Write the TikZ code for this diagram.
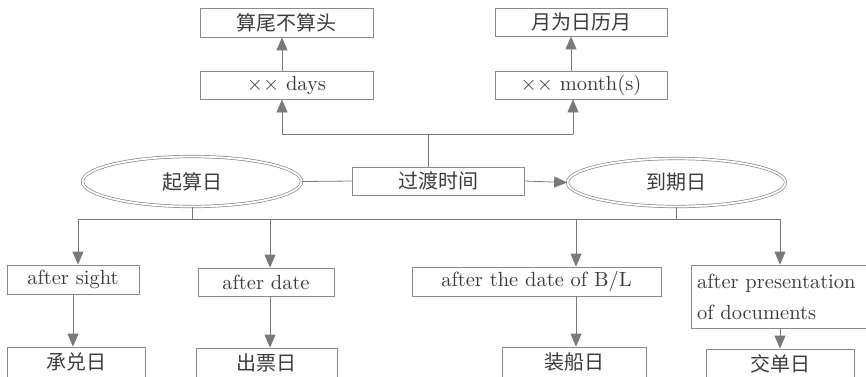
\documentclass[tikz,border=0pt]{standalone}
\usepackage{fontspec}
\newfontfamily\cjk{Noto Sans CJK SC}
\newfontfamily\enfont{lmroman10-regular.otf}
\usetikzlibrary{arrows.meta,shapes.geometric}
\definecolor{ln}{HTML}{7A7A7A}
\definecolor{bx}{HTML}{8A8A8A}
\definecolor{tx}{HTML}{3C3C3C}
\tikzset{
  box/.style={draw=bx, line width=0.8pt, rectangle, inner sep=0pt, text=tx},
  zh/.style={font=\cjk\fontsize{20}{24}\selectfont},
  en/.style={font=\enfont\fontsize{20.5}{31}\selectfont},
  oval/.style={ellipse, draw=bx, line width=0.7pt, double=white, double distance=1.8pt,
    inner sep=0pt, text=tx, font=\cjk\fontsize{20}{24}\selectfont},
  conn/.style={draw=ln, line width=0.8pt},
  arr/.style={conn, -{Triangle[width=11pt,length=13pt]}, color=ln},
}
\begin{document}
\begin{tikzpicture}[x=1pt,y=-1pt]
\clip (0,0) rectangle (866,376);
\fill[white] (0,0) rectangle (866,376);
% top boxes
\node[box,zh,minimum width=173pt,minimum height=29pt] (suanwei) at (286.5,22.5) {算尾不算头};
\node[box,en,minimum width=173pt,minimum height=28pt] (days) at (286.5,85) {$\mathord{\times}\mathord{\times}$ days};
\node[box,zh,minimum width=172pt,minimum height=28pt] (yuewei) at (581,22) {月为日历月};
\node[box,en,minimum width=172pt,minimum height=28pt] (month) at (581,85) {$\mathord{\times}\mathord{\times}$ month(s)};
% middle
\node[box,zh,minimum width=172pt,minimum height=28pt] (guodu) at (438,181) {过渡时间};
\node[oval,minimum width=219pt,minimum height=50pt] (qisuan) at (192,181.5) {起算日};
\node[oval,minimum width=218pt,minimum height=48pt] (daoqi) at (676.5,182.5) {到期日};
% lower boxes
\node[box,en,minimum width=132pt,minimum height=29pt] (sight) at (73,279.5) {after sight};
\node[box,en,minimum width=136pt,minimum height=28pt] (date) at (266,282) {after date};
\node[box,en,minimum width=249pt,minimum height=29pt] (bl) at (536.5,281.5) {after the date of B/L};
\node[box,en,minimum width=179pt,minimum height=63pt,text width=167pt,align=left] (pres) at (780.5,296.5) {after presentation\\of documents};
% bottom boxes
\node[box,zh,minimum width=138pt,minimum height=30pt] (chengdui) at (76,362) {承兑日};
\node[box,zh,minimum width=141pt,minimum height=30pt] (chupiao) at (266.5,363) {出票日};
\node[box,zh,minimum width=144pt,minimum height=30pt] (zhuangchuan) at (574,362) {装船日};
\node[box,zh,minimum width=148pt,minimum height=30pt] (jiaodan) at (780,364) {交单日};
% junction coordinates
\coordinate (tA) at (282,134);
\coordinate (tB) at (573,134);
\coordinate (tC) at (428,134);
\coordinate (b1) at (78,219);
\coordinate (b2) at (270,219);
\coordinate (b3) at (576,219);
\coordinate (b4) at (780,219);
% top connectors
\draw[conn] (tC |- guodu.north) -- (tC);
\draw[conn] (tA) -- (tB);
\draw[arr] (tA) -- (tA |- days.south);
\draw[arr] (tB) -- (tB |- month.south);
\draw[arr] (tA |- days.north) -- (tA |- suanwei.south);
\draw[arr] (month.north -| 571,0) -- (yuewei.south -| 571,0);
% middle connectors
\draw[conn] (qisuan.east) -- (guodu.west);
\draw[arr] (guodu.east) -- (daoqi.west);
% lower connectors
\draw[conn] (qisuan.south) -- (qisuan.south |- b1);
\draw[conn] (daoqi.south) -- (daoqi.south |- b1);
\draw[conn] (b1) -- (b4);
\draw[arr] (b1) -- (b1 |- sight.north);
\draw[arr] (b2) -- (b2 |- date.north);
\draw[arr] (b3) -- (b3 |- bl.north);
\draw[arr] (b4) -- (b4 |- pres.north);
\draw[arr] (sight.south) -- (sight.south |- chengdui.north);
\draw[arr] (b2 |- date.south) -- (b2 |- chupiao.north);
\draw[arr] (b3 |- bl.south) -- (b3 |- zhuangchuan.north);
\draw[arr] (b4 |- pres.south) -- (b4 |- jiaodan.north);
\end{tikzpicture}
\end{document}
